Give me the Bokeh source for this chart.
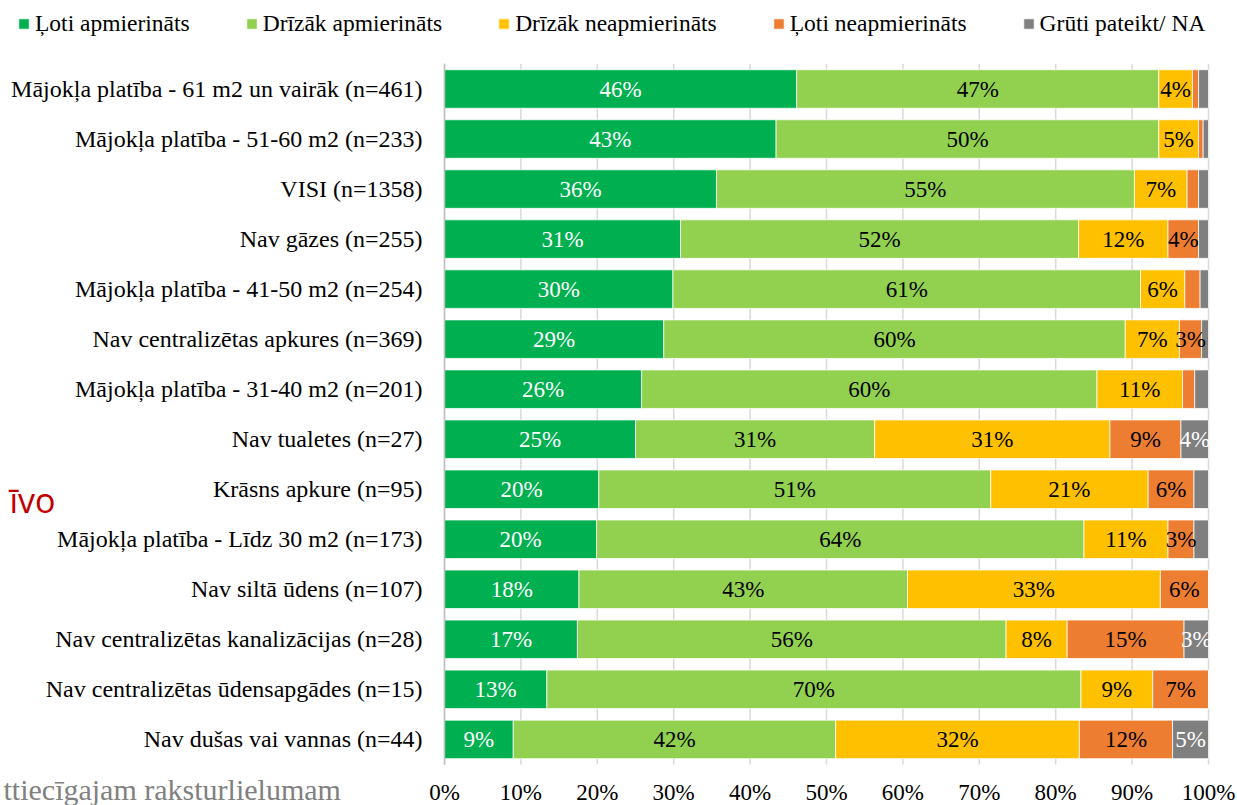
from bokeh.plotting import figure
from bokeh.models import (ColumnDataSource, Range1d, Legend, LegendItem, Label,
                          FixedTicker, PrintfTickFormatter, CustomJSTickFormatter)
from bokeh.core.properties import value
from bokeh.embed import file_html
from bokeh.resources import INLINE

# ---------------- data ----------------
categories = [
    "Mājokļa platība - 61 m2 un vairāk (n=461)",
    "Mājokļa platība - 51-60 m2 (n=233)",
    "VISI (n=1358)",
    "Nav gāzes (n=255)",
    "Mājokļa platība - 41-50 m2 (n=254)",
    "Nav centralizētas apkures (n=369)",
    "Mājokļa platība - 31-40 m2 (n=201)",
    "Nav tualetes (n=27)",
    "Krāsns apkure (n=95)",
    "Mājokļa platība - Līdz 30 m2 (n=173)",
    "Nav siltā ūdens (n=107)",
    "Nav centralizētas kanalizācijas (n=28)",
    "Nav centralizētas ūdensapgādes (n=15)",
    "Nav dušas vai vannas (n=44)",
]
series_names = ["Ļoti apmierināts", "Drīzāk apmierināts", "Drīzāk neapmierināts",
                "Ļoti neapmierināts", "Grūti pateikt/ NA"]
loti_apm = [46.1, 43.4, 35.6, 30.9, 29.9, 28.7, 25.8, 25.0, 20.2, 19.9, 17.6, 17.4, 13.4, 9.0]
drizak_apm = [47.4, 50.1, 54.7, 52.1, 61.2, 60.4, 59.6, 31.3, 51.3, 63.8, 43.0, 56.1, 69.9, 42.2]
drizak_neapm = [4.4, 5.2, 6.9, 11.7, 5.8, 7.1, 11.2, 30.8, 20.6, 11.0, 33.1, 8.0, 9.4, 31.9]
loti_neapm = [0.8, 0.6, 1.5, 4.0, 2.0, 2.9, 1.6, 9.3, 6.0, 3.4, 6.3, 15.3, 7.3, 12.2]
gruti = [1.3, 0.7, 1.3, 1.3, 1.1, 0.9, 1.8, 3.6, 1.9, 1.9, 0.0, 3.2, 0.0, 4.7]
tick_values = [0, 10, 20, 30, 40, 50, 60, 70, 80, 90, 100]

colors = ["#00B050", "#92D050", "#FFC000", "#ED7D31", "#7F7F7F"]
label_colors = ["white", "black", "black", "black", "white"]
keys = ["s0", "s1", "s2", "s3", "s4"]
series = [loti_apm, drizak_apm, drizak_neapm, loti_neapm, gruti]

n = len(categories)
ypos = [n - 1 - i for i in range(n)]          # first category on top
source = ColumnDataSource(dict(y=ypos, **{k: v for k, v in zip(keys, series)}))

# data labels from the stacked values
lx, ly, lt, lc = [], [], [], []
for i in range(n):
    left = 0.0
    for j, s in enumerate(series):
        v = s[i]
        if v >= 2.5:
            lx.append(left + v / 2)
            ly.append(ypos[i])
            lt.append(f"{round(v)}%")
            lc.append(label_colors[j])
        left += v
lsrc = ColumnDataSource(dict(x=lx, y=ly, text=lt, color=lc))

FONT = "Liberation Serif"

# ---------------- layout ----------------
W, H = 1237, 805
X0, X100 = 444.0, 1208.0          # pixel position of 0% and 100%
ROW0, PITCH = 88.5, 50.03          # pixel centre of first row, row pitch
pxu = (X100 - X0) / 100.0
x_start = -X0 / pxu
x_end = 100 + (W - X100) / pxu
y_end = (n - 1) + ROW0 / PITCH
y_start = (n - 1) - (H - ROW0) / PITCH

p = figure(width=W, height=H, output_backend="svg", toolbar_location=None, title=None,
           x_range=Range1d(x_start, x_end), y_range=Range1d(y_start, y_end))
p.min_border = 0
p.min_border_left = 0
p.min_border_right = 0
p.min_border_top = 0
p.min_border_bottom = 0
p.outline_line_color = None
p.background_fill_color = "white"
p.border_fill_color = "white"
p.xgrid.visible = False
p.ygrid.visible = False

# vertical gridlines, limited to the bar area
p.segment(x0=tick_values, x1=tick_values, y0=-0.5, y1=n - 0.5,
          line_color="#d9d9d9", line_width=1.5, level="underlay")

renderers = p.hbar_stack(keys, y="y", height=0.77, color=colors, source=source,
                         line_color="white", line_width=0.75)

p.text(x="x", y="y", text="text", source=lsrc, text_align="center",
       text_baseline="middle", text_color="color", text_font=value(FONT),
       text_font_size="23px")

# x axis (percent scale), pinned under the last bar
xa = p.xaxis[0]
xa.fixed_location = -0.5
xa.bounds = (0, 100)
xa.ticker = FixedTicker(ticks=tick_values)
xa.formatter = PrintfTickFormatter(format="%d%%")
xa.axis_line_color = None
xa.major_tick_line_color = None
xa.minor_tick_line_color = None
xa.major_tick_out = 0
xa.major_tick_in = 0
xa.major_label_standoff = 16
xa.major_label_text_font = FONT
xa.major_label_text_font_size = "23px"
xa.major_label_text_color = "black"

# y axis (categories), pinned at 0%
ya = p.yaxis[0]
ya.fixed_location = 0
ya.bounds = (-0.5, n - 0.5)
ya.ticker = FixedTicker(ticks=ypos)
ya.formatter = CustomJSTickFormatter(args=dict(cats=categories),
                                     code="return cats[cats.length - 1 - Math.round(tick)];")
ya.axis_line_color = "#bfbfbf"
ya.axis_line_width = 1.5
ya.major_tick_line_color = None
ya.minor_tick_line_color = None
ya.major_tick_out = 0
ya.major_tick_in = 0
ya.major_label_standoff = 22
ya.major_label_text_font = FONT
ya.major_label_text_font_size = "24px"
ya.major_label_text_color = "black"

# legend
items = [LegendItem(label=nm, renderers=[r]) for nm, r in zip(series_names, renderers)]
legend = Legend(items=items, orientation="horizontal", location=(17, 768),
                glyph_width=13, glyph_height=13, label_standoff=5, spacing=55,
                padding=0, margin=0, border_line_color=None, background_fill_alpha=0,
                label_text_font=FONT, label_text_font_size="23.5px", label_text_color="black")
p.add_layout(legend, "center")

# fragments of the slide behind the chart
p.add_layout(Label(x=55, y=H - 499, x_units="screen", y_units="screen",
                   text="īvo", text_align="right", text_baseline="alphabetic",
                   text_font="Open Sans", text_font_size="34px", text_color="#C00000"))
p.add_layout(Label(x=3, y=H - 789, x_units="screen", y_units="screen",
                   text="ttiecīgajam raksturlielumam", text_align="left",
                   text_baseline="alphabetic", text_font=FONT,
                   text_font_size="30px", text_color="#808080"))

open("out.html", "w").write(file_html(p, INLINE))
